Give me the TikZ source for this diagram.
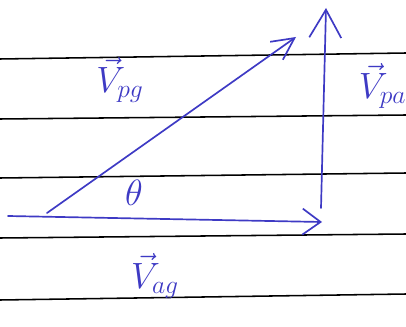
\documentclass[tikz,border=0pt]{standalone}
\usepackage{fix-cm}
\usepackage{amsmath,amssymb}
\usetikzlibrary{arrows.meta}
\definecolor{ink}{RGB}{62,58,196}

\begin{document}
\begin{tikzpicture}[x=0.025cm,y=-0.025cm,
  rule/.style={black,line width=1.1pt},
  vec/.style={ink,line width=1.2pt,line cap=round},
  lbl/.style={ink,font=\fontsize{26}{28}\selectfont}]
  \useasboundingbox (0,0) rectangle (406,327);
  % ruled paper
  \foreach \l/\r in {59/53,119/115,178/173,238/234,300/294}{\draw[rule] (0,\l) -- (406,\r);}
  % end points of the triangle
  \coordinate (start) at (8,216);
  \coordinate (orig) at (47,213);
  \coordinate (east) at (322,222);
  \coordinate (foot) at (321,208);
  \coordinate (top) at (326,8);
  \coordinate (tip) at (296,37);
  % velocity vectors
  \draw[vec,-{Straight Barb[length=0.45cm,width=0.65cm,line width=1.2pt]}] (start) -- (east);
  \draw[vec,-{Straight Barb[length=0.55cm,width=0.55cm,line width=1.2pt]}] (orig) -- (tip);
  \draw[vec,-{Straight Barb[length=0.7cm,width=0.8cm,line width=1.2pt]}] (foot) -- (top);
  % labels
  \node[lbl] (vpg) at (120,80) {$\vec{V}_{pg}$};
  \node[lbl,anchor=west] (vpa) at (354,86) {$\vec{V}_{pa}$};
  \node[lbl] (theta) at (134,193) {$\theta$};
  \node[lbl] (vag) at (155,276) {$\vec{V}_{ag}$};
\end{tikzpicture}
\end{document}
